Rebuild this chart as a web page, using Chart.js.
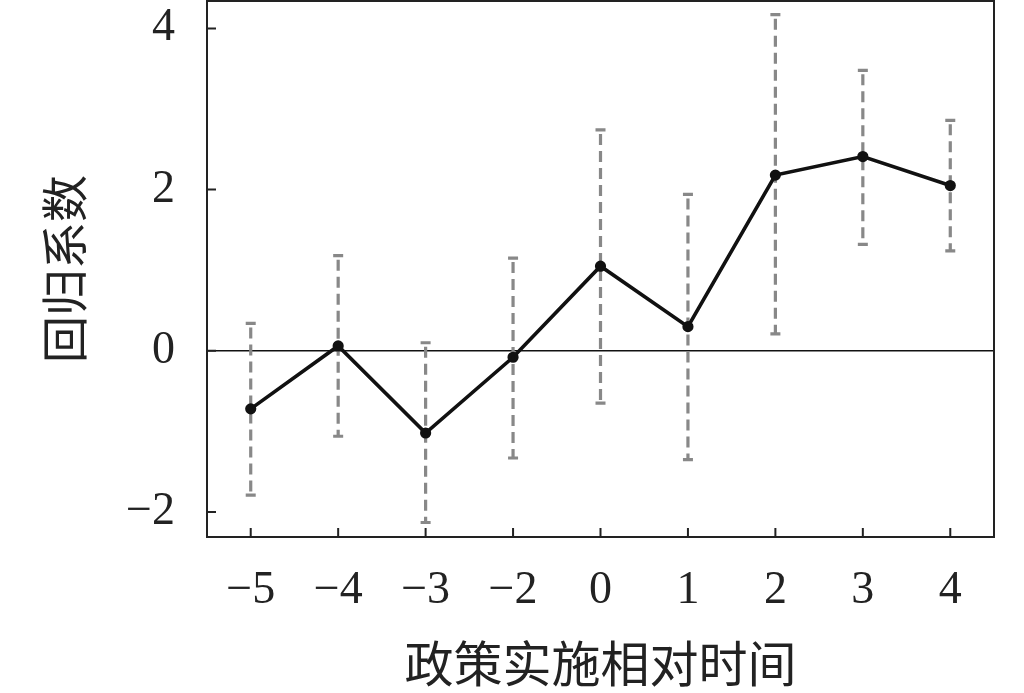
<!DOCTYPE html>
<html>
<head>
<meta charset="utf-8">
<script src="https://cdn.jsdelivr.net/npm/chart.js@4/dist/chart.umd.min.js"></script>
<style>
html,body{margin:0;padding:0;background:#fff}
#wrap{width:1024px;height:693px;position:relative}
</style>
</head>
<body>
<div id="wrap"><canvas id="didChart"></canvas></div>
<script>
// event-study coefficients with confidence intervals
const periods = ["\u22125", "\u22124", "\u22123", "\u22122", "0", "1", "2", "3", "4"];
const coefs = [-0.72, 0.06, -1.02, -0.08, 1.05, 0.30, 2.18, 2.41, 2.05];
const ciLow = [-1.79, -1.06, -2.13, -1.33, -0.65, -1.35, 0.21, 1.32, 1.24];
const ciHigh = [0.34, 1.18, 0.10, 1.15, 2.74, 1.94, 4.17, 3.48, 2.86];
const yTicks = [-2, 0, 2, 4];

const serif = "'Liberation Serif', 'DejaVu Serif', serif";
const cjk = "'Noto Sans CJK SC', sans-serif";

const errorBars = {
    id: "errorBars",
    beforeDatasetsDraw(chart){
        const ctx = chart.ctx;
        const xs = chart.scales.x, ys = chart.scales.y;
        const area = chart.chartArea;
        ctx.save();
        // zero reference line
        const y0 = ys.getPixelForValue(0);
        ctx.strokeStyle = "#111";
        ctx.lineWidth = 1.6;
        ctx.beginPath();
        ctx.moveTo(area.left, y0);
        ctx.lineTo(area.right, y0);
        ctx.stroke();
        // dashed confidence intervals
        ctx.strokeStyle = "#888";
        ctx.lineWidth = 3.2;
        for(let i = 0; i < coefs.length; i++){
            const px = xs.getPixelForValue(i);
            const top = ys.getPixelForValue(ciHigh[i]);
            const bot = ys.getPixelForValue(ciLow[i]);
            ctx.setLineDash([11, 6]);
            ctx.beginPath();
            ctx.moveTo(px, top + 4);
            ctx.lineTo(px, bot);
            ctx.stroke();
            ctx.setLineDash([]);
            ctx.beginPath();
            ctx.moveTo(px - 5, top); ctx.lineTo(px + 5, top);
            ctx.moveTo(px - 5, bot); ctx.lineTo(px + 5, bot);
            ctx.stroke();
        }
        ctx.restore();
    },
    afterDraw(chart){
        const ctx = chart.ctx;
        const xs = chart.scales.x, ys = chart.scales.y;
        const area = chart.chartArea;
        ctx.save();
        ctx.strokeStyle = "#222";
        ctx.lineWidth = 2;
        ctx.strokeRect(area.left, area.top, area.right - area.left, area.bottom - area.top);
        // inward tick marks
        ctx.beginPath();
        yTicks.forEach(v => {
            const py = ys.getPixelForValue(v);
            ctx.moveTo(area.left, py);
            ctx.lineTo(area.left + 9, py);
        });
        periods.forEach((p, i) => {
            const px = xs.getPixelForValue(i);
            ctx.moveTo(px, area.bottom);
            ctx.lineTo(px, area.bottom - 9);
        });
        ctx.stroke();
        ctx.restore();
    }
};

function noPad(scale){
    scale.paddingTop = 0;
    scale.paddingBottom = 0;
    scale.paddingLeft = 0;
    scale.paddingRight = 0;
}

new Chart("didChart", {
    type: "line",
    data: {
        labels: periods,
        datasets: [{
            data: coefs,
            borderColor: "#111",
            backgroundColor: "#111",
            borderWidth: 3.6,
            pointRadius: 3.8,
            pointHoverRadius: 3.8,
            tension: 0
        }]
    },
    options: {
        responsive: true,
        maintainAspectRatio: false,
        animation: false,
        layout: { autoPadding: false, padding: { left: 0, right: 30, top: 1, bottom: 0 } },
        plugins: {
            legend: { display: false },
            tooltip: { enabled: false }
        },
        scales: {
            x: {
                offset: true,
                grid: { display: false, drawTicks: false },
                border: { display: false },
                ticks: {
                    color: "#222",
                    padding: 26,
                    font: { family: serif, size: 46 }
                },
                title: {
                    display: true,
                    text: "政策实施相对时间",
                    color: "#222",
                    padding: { top: 0, bottom: 0 },
                    font: { family: cjk, size: 49 }
                },
                afterFit(scale){
                    scale.height = 156;
                    noPad(scale);
                }
            },
            y: {
                min: -2.31,
                max: 4.34,
                grid: { display: false, drawTicks: false },
                border: { display: false },
                afterBuildTicks(scale){
                    scale.ticks = yTicks.map(v => ({ value: v }));
                },
                ticks: {
                    color: "#222",
                    padding: 32,
                    font: { family: serif, size: 46 },
                    callback: v => (v < 0 ? "\u2212" + Math.abs(v) : String(v))
                },
                title: {
                    display: true,
                    text: "回归系数",
                    color: "#222",
                    padding: { top: 36, bottom: 0 },
                    font: { family: cjk, size: 47 }
                },
                afterFit(scale){
                    scale.width = 207;
                    noPad(scale);
                }
            }
        }
    },
    plugins: [errorBars]
});
</script>
</body>
</html>
